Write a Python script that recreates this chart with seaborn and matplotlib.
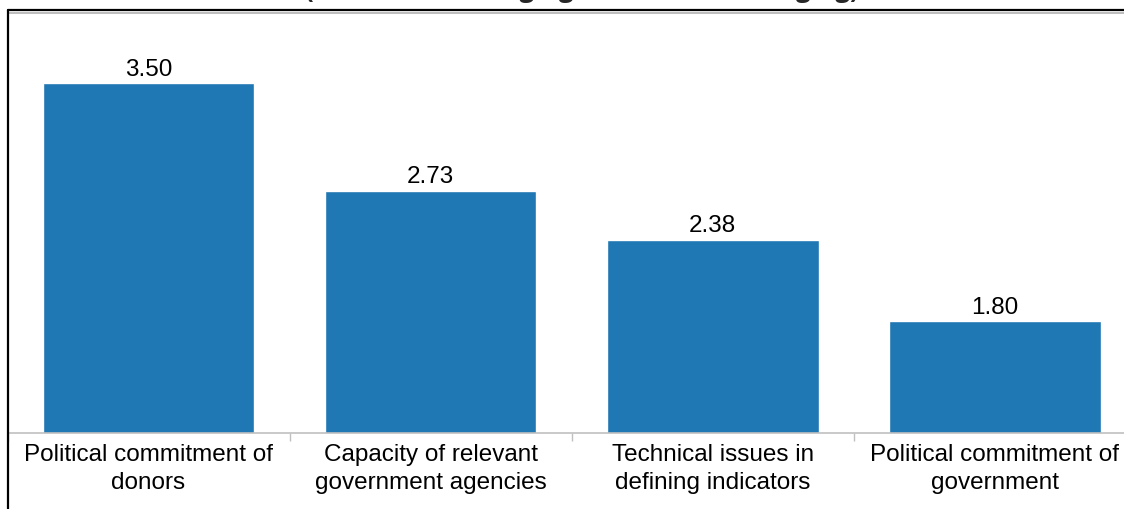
import matplotlib
matplotlib.use("Agg")
import matplotlib.pyplot as plt
from matplotlib.lines import Line2D
import seaborn as sns
import pandas as pd

# Average rank of each challenge (1 = least challenging, 4 = most challenging)
categories = [
    "Political commitment of\ndonors",
    "Capacity of relevant\ngovernment agencies",
    "Technical issues in\ndefining indicators",
    "Political commitment of\ngovernment",
]
scores = [3.50, 2.73, 2.38, 1.80]
title_text = "(1 = least challenging, 4 = most challenging)"

df = pd.DataFrame({"challenge": categories, "score": scores})

sns.set_theme(style="white")
plt.rcParams["font.family"] = ["Liberation Sans", "DejaVu Sans"]

W, H, DPI = 1124, 510, 100
fig = plt.figure(figsize=(W / DPI, H / DPI), dpi=DPI)

# axes span: baseline at y=434px, category slots 282px wide starting at x=7.5px
left_px, right_px = 7.5, 1136.0
bottom_px, top_px = 434.0, 14.0
ax = fig.add_axes([left_px / W, (H - bottom_px) / H,
                   (right_px - left_px) / W, (bottom_px - top_px) / H])

bar_color = "#1F77B4"
sns.barplot(data=df, x="challenge", y="score", order=categories,
            color=bar_color, saturation=1, width=0.75, ax=ax)

ax.set_ylim(1, 4)
ax.set_xlim(-0.5, 3.5)
ax.set_xlabel("")
ax.set_ylabel("")
ax.set_yticks([])

for side in ("left", "right", "top"):
    ax.spines[side].set_visible(False)
ax.spines["bottom"].set_color("#C0C0C0")
ax.spines["bottom"].set_linewidth(1.2)

# category boundary ticks
ax.set_xticks([-0.5, 0.5, 1.5, 2.5, 3.5], minor=True)
ax.tick_params(axis="x", which="minor", length=6, width=1, color="#C0C0C0",
               direction="out", bottom=True)
ax.tick_params(axis="x", which="major", length=0, pad=7)
for lbl in ax.get_xticklabels():
    lbl.set_fontsize(17.5)
    lbl.set_color("#000000")
    lbl.set_linespacing(1.38)
    lbl.set_verticalalignment("top")

# value labels above bars
for i, v in enumerate(scores):
    ax.annotate(f"{v:.2f}", xy=(i, v), xytext=(0, 2.5), textcoords="offset points",
                ha="center", va="bottom", fontsize=17.5, color="#000000")

# chart frame (double rule on top, single rule on left)
fig.add_artist(Line2D([8 / W, 1.0], [1 - 11 / H, 1 - 11 / H],
                      transform=fig.transFigure, color="#000000", lw=1.6))
fig.add_artist(Line2D([9 / W, 1.0], [1 - 13.5 / H, 1 - 13.5 / H],
                      transform=fig.transFigure, color="#BDBDBD", lw=1.4))
fig.add_artist(Line2D([8 / W, 8 / W], [0.0, 1 - 11 / H],
                      transform=fig.transFigure, color="#000000", lw=1.6))

# title sits above the frame, mostly beyond the top edge
fig.text(582 / W, 1 + 3 / H, title_text, ha="center", va="baseline",
         fontsize=18.5, fontweight="bold", family=["Open Sans", "DejaVu Sans"])

fig.savefig("out.png", dpi=DPI)
